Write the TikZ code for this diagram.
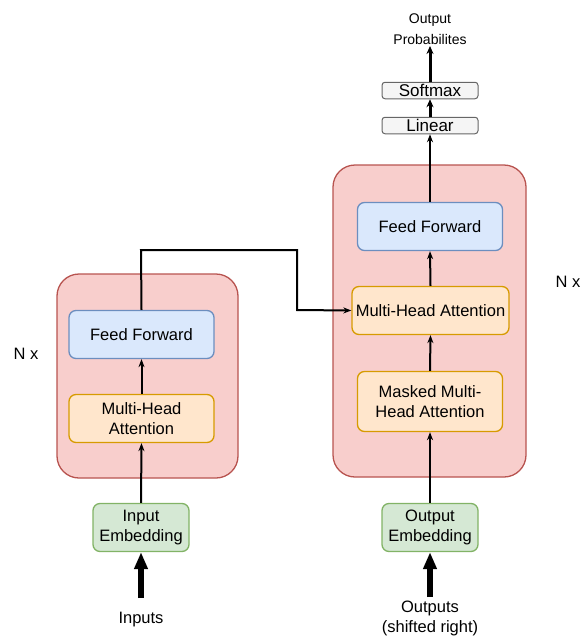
\documentclass[tikz,border=0pt]{standalone}
\usepackage{fontspec}
\setmainfont{Liberation Sans}
\usetikzlibrary{arrows.meta}
\definecolor{stackfill}{HTML}{F8CECC}
\definecolor{stackline}{HTML}{B85450}
\definecolor{ffwfill}{HTML}{DAE8FC}
\definecolor{ffwline}{HTML}{6C8EBF}
\definecolor{attfill}{HTML}{FFE6CC}
\definecolor{attline}{HTML}{D79B00}
\definecolor{embfill}{HTML}{D5E8D4}
\definecolor{embline}{HTML}{82B366}
\definecolor{outfill}{HTML}{F5F5F5}
\definecolor{outline}{HTML}{666666}
\tikzset{
  base/.style={font=\fontsize{16.5}{19.5}\selectfont, align=center, inner sep=0pt},
  stack/.style={draw=stackline, fill=stackfill, line width=1.3pt, rounded corners=22pt},
  block/.style={base, rectangle, rounded corners=7pt, line width=1.3pt},
  ffw/.style={block, draw=ffwline, fill=ffwfill, minimum width=145pt, minimum height=48pt},
  att/.style={block, draw=attline, fill=attfill, minimum width=145pt, minimum height=48pt},
  emb/.style={block, draw=embline, fill=embfill, minimum width=96pt, minimum height=48pt},
  outbox/.style={block, rounded corners=3pt, line width=1pt, draw=outline, fill=outfill,
    minimum width=96pt, minimum height=16.5pt, font=\fontsize{17}{19}\selectfont},
  conn/.style={line width=2pt, -{Stealth[length=8pt,width=6pt]}},
  fatconn/.style={line width=3pt, -{Stealth[length=8pt,width=7pt]}},
  bigarrow/.style={line width=5.5pt, -{Triangle[length=17pt,width=13pt]}},
  label/.style={base}
}
\begin{document}
\begin{tikzpicture}[x=1pt,y=-1pt]
\useasboundingbox (0,0) rectangle (584,643);

% encoder and decoder stacks
\draw[stack] (57,274) rectangle (238,478);
\draw[stack] (333,165) rectangle (526,477);

% encoder blocks
\node[ffw] (encff) at (141.5,334.5) {Feed Forward};
\node[att] (encatt) at (141.5,418.5) {Multi-Head\\Attention};
\node[emb] (inemb) at (141,527.5) {Input\\Embedding};
\node[label] (inputs) at (141,619.5) {Inputs};
\node[label] (nxl) at (26,354) {N x};

% decoder blocks
\node[ffw] (decff) at (430,226.5) {Feed Forward};
\node[att, minimum width=157pt] (decatt) at (430.5,310.5) {Multi-Head Attention};
\node[att, minimum height=60pt] (masked) at (430,401.5) {Masked Multi-\\Head Attention};
\node[emb] (outemb) at (430,527.5) {Output\\Embedding};
\node[label] (outputs) at (430,618.5) {Outputs\\(shifted right)};
\node[label] (nxr) at (568,282) {N x};

% output head
\node[outbox] (linear) at (430,125.5) {Linear};
\node[outbox] (softmax) at (430,90.5) {Softmax};
\node[base, font=\fontsize{14}{21}\selectfont] (probs) at (430,29.5) {Output\\Probabilites};

% input arrows
\coordinate (inbase) at (141,598);
\coordinate (outbase) at (430,597);
\draw[bigarrow] (inbase) -- (inemb.south);
\draw[bigarrow] (outbase) -- (outemb.south);

% encoder flow
\draw[conn] (inemb.north) -- (encatt.south);
\draw[conn] (encatt.north) -- (encff.south);

% decoder flow
\draw[conn] (outemb.north) -- (masked.south);
\draw[conn] (masked.north) -- (decatt.south);
\draw[conn] (decatt.north) -- (decff.south);
\draw[conn] (decff.north) -- (linear.south);
\draw[fatconn] (linear.north) -- (softmax.south);
\coordinate (probtip) at (430,46);
\draw[fatconn] (softmax.north) -- (probtip);

% encoder output into decoder attention
\coordinate (bendA) at (141,250);
\coordinate (bendB) at (297,250);
\coordinate (bendC) at (297,310);
\draw[conn] (encff.north) -- (bendA) -- (bendB) -- (bendC) -- (decatt.west);
\end{tikzpicture}
\end{document}
